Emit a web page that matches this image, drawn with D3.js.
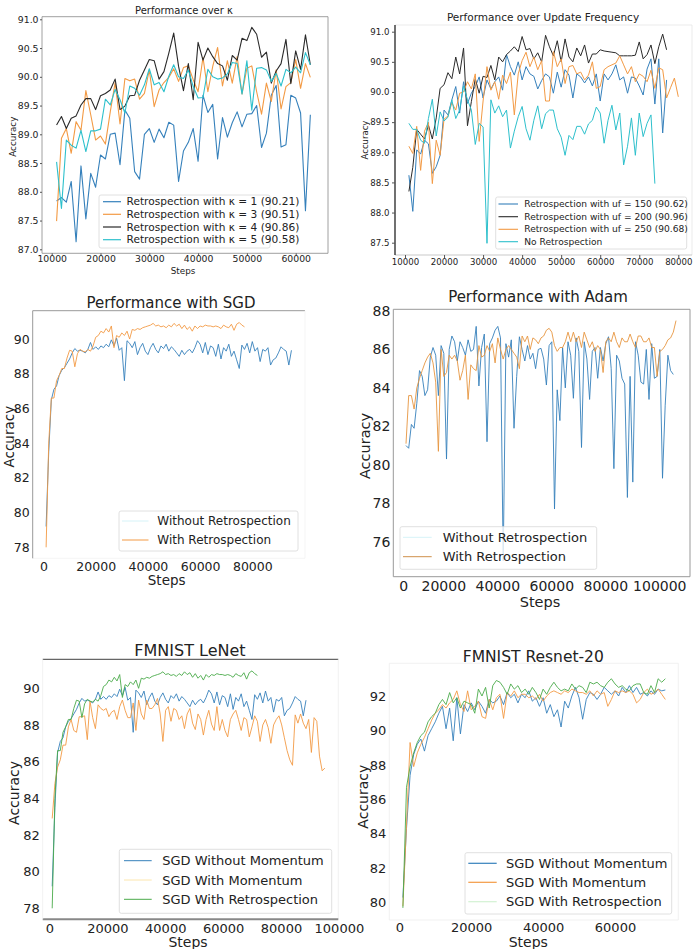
<!DOCTYPE html>
<html lang="en">
<head>
<meta charset="utf-8">
<title>Retrospection results</title>
<script src="https://cdn.jsdelivr.net/npm/d3@7/dist/d3.min.js"></script>
<style>
body { margin: 0; background: #fff; }
svg text { font-family: "DejaVu Sans", sans-serif; fill: #222; }
.axis path { display: none; }
.axis line { stroke: #555; }
</style>
</head>
<body>
<script>
// ---- data (accuracy) ----
var kappaSteps = d3.range(11000, 63001, 1000);
var kappa1 = [87.84, 87.90, 87.82, 88.18, 87.13, 88.45, 87.53, 88.32, 88.08, 88.64,
  88.57, 89.00, 89.02, 88.47, 89.42, 89.28, 88.35, 88.22, 89.00, 89.10,
  88.86, 89.09, 88.94, 89.21, 89.16, 88.18, 88.71, 88.86, 89.10, 88.53,
  89.68, 89.38, 89.52, 88.57, 89.29, 88.95, 89.20, 89.39, 89.13, 89.35,
  89.36, 89.50, 88.77, 89.02, 89.68, 89.85, 88.78, 88.82, 89.68, 89.63,
  89.37, 87.67, 89.34];
var kappa3 = [87.49, 88.93, 89.10, 88.67, 89.22, 89.07, 89.76, 89.34, 88.90, 88.97,
  88.83, 89.39, 89.90, 89.18, 89.97, 89.93, 89.96, 89.61, 89.71, 90.12,
  89.48, 89.77, 89.90, 89.99, 90.14, 89.92, 90.16, 90.19, 89.95, 89.74,
  90.34, 89.74, 90.18, 90.51, 89.84, 90.28, 89.89, 90.35, 89.70, 90.15,
  90.19, 89.74, 89.35, 89.89, 89.57, 90.12, 89.44, 89.83, 89.90, 90.30,
  89.80, 90.23, 89.99];
var kappa4 = [89.16, 89.31, 89.10, 89.28, 89.32, 89.51, 89.62, 89.62, 89.43, 89.67,
  89.71, 89.77, 89.96, 89.43, 89.49, 89.67, 89.68, 89.94, 90.12, 90.30,
  90.28, 89.96, 90.09, 90.41, 90.76, 90.18, 89.76, 90.23, 89.60, 90.60,
  90.29, 90.50, 90.35, 90.23, 90.19, 89.94, 90.37, 90.29, 90.67, 90.63,
  90.86, 90.74, 90.34, 90.43, 89.89, 90.10, 90.23, 90.65, 89.88, 90.45,
  90.13, 90.73, 90.21];
var kappa5 = [88.52, 87.71, 88.90, 88.81, 88.76, 89.07, 88.70, 89.06, 89.06, 89.09,
  89.61, 89.51, 89.78, 89.60, 89.37, 89.84, 89.80, 89.68, 89.86, 90.14,
  89.86, 89.90, 89.74, 90.01, 90.21, 90.00, 89.97, 90.12, 89.83, 89.63,
  89.64, 90.13, 90.00, 89.96, 89.98, 90.05, 90.25, 90.23, 89.70, 90.28,
  89.42, 90.15, 90.16, 90.12, 89.92, 90.06, 89.84, 90.13, 90.07, 90.17,
  90.07, 90.42, 90.21];

var uf150Steps = d3.range(11000, 77001, 1000);
var uf150 = [88.62, 88.02, 89.04, 88.97, 89.20, 89.14, 88.65, 88.76, 88.95, 89.70,
  89.62, 89.87, 90.09, 89.65, 90.17, 89.81, 89.98, 90.09, 90.25, 89.90,
  90.20, 90.05, 90.17, 90.25, 90.03, 90.62, 90.42, 90.28, 90.50, 90.20,
  90.42, 90.30, 90.26, 90.05, 90.19, 90.30, 90.25, 89.98, 90.33, 90.08,
  90.37, 90.28, 89.90, 90.30, 90.25, 90.15, 90.25, 90.10, 90.30, 89.85,
  90.30, 90.20, 90.30, 90.45, 90.20, 90.25, 89.98, 90.25, 90.23, 90.10,
  89.95, 90.38, 90.55, 89.80, 90.55, 89.32, 90.20];
var uf200 = [88.35, 88.75, 89.38, 89.30, 89.22, 89.45, 89.22, 89.57, 90.06, 90.12,
  90.32, 90.22, 90.58, 90.30, 90.73, 89.44, 89.84, 90.22, 89.98, 90.26,
  90.24, 90.44, 90.20, 90.58, 90.50, 90.62, 90.68, 90.75, 90.67, 90.92,
  90.70, 90.72, 90.55, 90.65, 90.50, 90.94, 90.75, 90.60, 90.85, 90.50,
  90.88, 90.58, 90.50, 90.73, 90.60, 90.78, 90.48, 90.63, 90.63, 90.70,
  90.68, 90.67, 90.66, 90.65, 90.60, 90.60, 90.60, 90.60, 90.61, 90.83,
  90.55, 90.62, 90.78, 90.47, 90.75, 90.96, 90.70];
var uf250Steps = d3.range(11000, 80001, 1000);
var uf250 = [89.10, 88.98, 89.43, 88.70, 89.35, 89.50, 88.48, 89.20, 88.95, 89.55,
  89.60, 89.82, 89.70, 89.98, 90.00, 90.17, 90.05, 90.30, 89.18, 89.85,
  90.42, 90.03, 90.17, 89.88, 90.28, 90.14, 90.33, 89.62, 90.30, 90.52,
  90.66, 90.42, 90.58, 90.37, 90.52, 89.85, 89.85, 90.67, 90.42, 90.55,
  90.14, 90.42, 90.44, 90.30, 90.33, 90.20, 90.28, 90.50, 90.06, 90.09,
  90.37, 90.42, 90.45, 90.48, 90.60, 90.45, 90.30, 90.42, 90.17, 90.30,
  90.26, 90.17, 90.36, 90.06, 90.40, 90.37, 89.90, 90.07, 90.23, 89.92];
var ufNoneSteps = d3.range(11000, 74001, 1000);
var ufNone = [89.48, 89.38, 89.38, 89.20, 89.15, 89.56, 89.88, 89.27, 89.67, 89.52,
  89.58, 89.87, 89.56, 89.70, 90.10, 89.87, 89.70, 89.13, 89.48, 89.42,
  87.49, 89.87, 89.65, 89.77, 89.59, 89.70, 89.07, 89.35, 89.59, 89.76,
  89.39, 89.20, 89.53, 89.77, 89.39, 89.64, 89.70, 89.70, 89.39, 89.25,
  88.95, 89.28, 89.21, 89.43, 89.43, 89.30, 89.47, 89.53, 89.75, 89.65,
  89.15, 89.53, 89.78, 89.37, 89.65, 88.79, 89.10, 89.57, 88.95, 89.65,
  89.26, 89.48, 89.62, 88.48];

// SGD runs (same curves reappear in the FMNIST LeNet panel, logged on a tighter step grid)
var sgdPlainSteps = d3.range(1000, 95001, 1000);
var sgdPlain = [79.2, 83.5, 86.5, 87.1, 87.3, 87.9, 88.2, 88.35, 88.6, 88.85,
  89.2, 89.45, 89.3, 89.35, 89.3, 89.2, 89.4, 89.8, 89.4, 89.55,
  89.4, 89.6, 89.5, 89.7, 89.55, 89.95, 89.6, 90.05, 89.35, 89.5,
  87.6, 89.9, 89.75, 89.5, 89.85, 89.1, 89.5, 89.75, 89.3, 89.1,
  89.5, 89.75, 89.4, 89.2, 89.6, 89.45, 89.7, 89.3, 89.55, 89.4,
  89.2, 89.0, 89.35, 89.1, 89.3, 89.4, 89.2, 89.5, 89.9, 89.7,
  89.2, 89.8, 89.1, 89.6, 89.5, 89.0, 89.7, 88.85, 89.5, 89.3,
  89.7, 89.0, 89.3, 88.8, 88.3, 89.65, 89.4, 89.75, 89.2, 89.85,
  89.3, 89.5, 88.7, 89.4, 89.3, 89.5, 88.5, 88.8, 88.9, 89.2,
  89.55, 89.4, 89.3, 88.5, 89.35];
var sgdRetroSteps = d3.range(1000, 77001, 1000);
var sgdRetro = [78.0, 84.0, 86.6, 86.6, 87.6, 87.9, 88.3, 88.3, 88.9, 89.35,
  89.3, 88.4, 89.15, 89.4, 89.3, 89.25, 89.4, 89.3, 89.6, 90.1,
  90.2, 90.45, 90.35, 90.6, 90.4, 90.75, 89.5, 90.2, 90.1, 90.35,
  90.2, 90.45, 90.0, 90.55, 90.5, 90.6, 90.55, 90.65, 90.7, 90.75,
  90.8, 90.9, 90.75, 90.8, 90.7, 90.75, 90.65, 90.8, 90.7, 90.9,
  90.75, 90.85, 90.6, 90.8, 90.55, 90.7, 90.45, 90.75, 90.6, 90.75,
  90.7, 90.8, 90.75, 90.75, 90.7, 90.75, 90.7, 90.6, 90.8, 90.7,
  90.65, 90.85, 90.5, 90.85, 90.95, 90.8, 90.7];

var adamPlainSteps = d3.range(1000, 100001, 1000);
var adamPlain = [81.0, 80.86, 82.1, 81.9, 83.2, 84.9, 84.6, 83.6, 83.9, 85.6,
  86.1, 85.7, 83.6, 86.2, 85.8, 80.3, 86.0, 86.7, 86.4, 85.4,
  86.4, 86.1, 85.7, 86.5, 85.9, 86.0, 87.2, 84.1, 86.1, 86.8,
  81.2, 86.3, 86.6, 87.0, 87.2, 86.6, 75.0, 86.3, 85.6, 86.5,
  81.9, 84.6, 86.66, 86.0, 85.4, 86.2, 85.5, 85.8, 85.0, 86.0,
  86.06, 85.5, 84.15, 86.2, 86.4, 77.7, 83.9, 82.3, 86.1, 84.0,
  86.4, 85.7, 83.46, 86.6, 85.9, 80.9, 86.4, 85.5, 83.4, 85.9,
  86.1, 84.5, 86.1, 85.4, 86.3, 86.66, 85.0, 79.8, 85.7, 85.4,
  84.5, 84.2, 78.3, 84.6, 79.1, 86.4, 85.7, 84.3, 84.2, 86.0,
  83.4, 86.3, 84.5, 84.6, 86.0, 79.3, 83.1, 85.7, 84.9, 84.7];
var adamRetroSteps = d3.range(1000, 101001, 1000);
var adamRetro = [81.1, 83.6, 83.6, 82.9, 84.0, 84.5, 84.9, 85.3, 85.6, 85.8,
  85.3, 84.3, 80.7, 86.0, 84.6, 84.8, 85.7, 85.5, 85.7, 85.4,
  84.4, 84.9, 85.7, 83.4, 85.2, 85.0, 84.9, 86.2, 85.6, 85.7,
  86.2, 85.9, 86.3, 85.3, 86.6, 86.0, 85.5, 86.0, 86.2, 86.0,
  85.8, 85.6, 85.0, 86.7, 86.4, 86.7, 86.0, 86.6, 86.5, 86.3,
  86.6, 86.7, 87.0, 87.1, 86.9, 86.2, 85.9, 86.1, 86.1, 86.4,
  86.9, 86.4, 86.9, 86.4, 86.7, 86.1, 86.9, 86.5, 86.1, 86.4,
  85.9, 86.2, 86.0, 84.8, 86.4, 86.6, 86.4, 86.9, 86.4, 86.1,
  86.6, 86.4, 86.4, 86.8, 86.4, 86.1, 86.7, 86.7, 86.4, 86.4,
  86.6, 86.1, 86.1, 84.6, 85.9, 86.0, 86.2, 86.5, 86.6, 86.9,
  87.5];

var lenetEvery = 933;   // logging interval of the LeNet runs
var lenetMom = [82.9, 84.8, 85.7, 86.1, 86.9, 86.9, 87.9, 88.3, 87.7, 87.6,
  88.45, 88.45, 88.5, 87.2, 89.3, 88.4, 87.8, 89.1, 88.9, 88.8,
  88.9, 88.45, 88.7, 88.8, 88.3, 89.0, 89.36, 88.8, 88.4, 88.4,
  89.2, 87.7, 89.36, 88.6, 88.3, 89.36, 88.9, 88.9, 89.1, 89.45,
  88.6, 87.1, 88.8, 89.0, 88.2, 88.9, 88.8, 88.3, 88.5, 87.8,
  88.6, 88.9, 88.1, 87.75, 88.6, 88.3, 87.45, 88.3, 88.8, 88.05,
  87.7, 89.0, 87.7, 88.3, 87.7, 87.35, 88.3, 88.6, 88.8, 88.3,
  87.7, 88.4, 88.3, 87.35, 87.9, 88.5, 88.2, 87.1, 88.0, 88.3,
  87.85, 87.0, 88.0, 88.3, 88.5, 88.0, 87.3, 86.6, 86.1, 85.8,
  88.55, 88.1, 88.6, 88.1, 87.8, 88.3, 86.5, 88.4, 88.2, 86.3,
  85.5, 85.65];
var lenetPlainSteps = sgdPlain.map(function(v, i) { return (i + 1) * lenetEvery; });
var lenetRetroSteps = sgdRetro.map(function(v, i) { return (i + 1) * lenetEvery; });
var lenetMomSteps = lenetMom.map(function(v, i) { return (i + 1) * lenetEvery; });

var resSteps = d3.range(1000, 74001, 1000);
var resPlain = [80.3, 84.3, 87.4, 88.6, 89.2, 89.5, 88.8, 89.7, 90.1, 90.5,
  91.0, 91.4, 90.1, 91.3, 89.4, 91.9, 89.8, 91.5, 91.1, 91.6,
  91.2, 91.7, 91.4, 91.0, 91.8, 91.6, 91.7, 92.0, 91.5, 92.2,
  91.9, 92.1, 91.6, 92.1, 91.9, 92.3, 91.7, 91.9, 91.4, 91.9,
  91.0, 91.5, 90.8, 91.2, 90.2, 91.7, 91.3, 92.0, 92.5, 91.9,
  90.65, 91.8, 92.2, 92.1, 91.8, 92.1, 92.5, 92.3, 92.1, 92.3,
  92.0, 92.5, 92.2, 92.6, 92.2, 92.5, 92.1, 92.2, 92.0, 92.3,
  92.1, 92.4, 92.3, 92.35];
var resMom = [79.8, 84.5, 89.3, 87.9, 88.7, 89.2, 89.6, 90.1, 90.6, 91.0,
  91.2, 91.5, 91.3, 91.6, 91.8, 92.3, 91.5, 91.1, 92.3, 91.2,
  91.4, 91.7, 90.8, 90.7, 91.8, 91.2, 91.9, 92.1, 90.7, 92.2,
  92.0, 92.3, 91.9, 92.1, 92.1, 91.9, 92.0, 91.8, 92.1, 91.7,
  92.0, 92.2, 92.3, 92.2, 92.1, 92.3, 92.2, 92.4, 92.3, 92.2,
  92.2, 92.1, 92.3, 92.0, 92.3, 92.1, 92.2, 91.4, 91.8, 92.3,
  92.2, 92.3, 92.2, 92.3, 92.1, 91.6, 91.8, 92.2, 92.4, 92.1,
  92.2, 92.4, 92.1, 91.8];
var resRetro = [79.7, 86.7, 87.9, 88.7, 89.3, 89.7, 89.9, 90.5, 90.8, 91.0,
  91.5, 91.8, 91.5, 92.2, 91.6, 91.9, 91.3, 91.7, 91.6, 91.5,
  91.0, 92.4, 92.0, 92.5, 91.3, 92.6, 92.9, 92.8, 92.5, 92.1,
  92.7, 92.4, 92.6, 92.2, 92.4, 92.1, 92.5, 92.2, 91.8, 92.4,
  92.1, 92.5, 92.8, 92.5, 92.3, 92.4, 92.3, 92.7, 92.4, 92.6,
  92.5, 92.2, 92.8, 92.7, 92.8, 92.6, 92.5, 92.8, 93.0, 92.7,
  92.5, 92.6, 92.4, 92.3, 92.6, 92.7, 92.7, 92.2, 92.1, 92.6,
  92.2, 93.0, 92.8, 93.0];

var kappaTicksX = d3.range(10000, 60001, 10000);
var kappaTicksY = d3.range(87, 91.01, 0.5);
var ufTicksX = d3.range(10000, 80001, 10000);
var ufTicksY = d3.range(87.5, 91.01, 0.5);
var sgdTicksX = [0, 20000, 40000, 60000, 80000];
var accTicks78 = [78, 80, 82, 84, 86, 88, 90];
var adamTicksX = [0, 20000, 40000, 60000, 80000, 100000];
var adamTicksY = [76, 78, 80, 82, 84, 86, 88];
var resTicksX = [0, 20000, 40000, 60000];
var resTicksY = [80, 82, 84, 86, 88, 90, 92];

// ---- colours ----
var cBlue = "#3580bb", cOrange = "#f39a44", cBlack = "#2a2a2a", cCyan = "#2dc0cc", cGreen = "#4aaa4a";

var svg = d3.select("body").append("svg").attr("width", 699).attr("height", 949);

function panel(p) {
  var x = d3.scaleLinear().domain([p.xa[0], p.xb[0]]).range([p.xa[1], p.xb[1]]);
  var y = d3.scaleLinear().domain([p.ya[0], p.yb[0]]).range([p.ya[1], p.yb[1]]);
  var b = p.box;
  var g = svg.append("g");

  // spines: top, right, bottom, left
  var sides = [[b[0], b[1], b[2], b[1]], [b[2], b[1], b[2], b[3]], [b[0], b[3], b[2], b[3]], [b[0], b[1], b[0], b[3]]];
  sides.forEach(function(s, i) {
    g.append("line").attr("x1", s[0]).attr("y1", s[1]).attr("x2", s[2]).attr("y2", s[3])
      .attr("stroke", p.spines[i][0]).attr("stroke-width", p.spines[i][1]);
  });

  var xAxis = d3.axisBottom(x).tickValues(p.xticks).tickSize(p.tick).tickPadding(p.xpad)
    .tickFormat(d3.format("d"));
  var yAxis = d3.axisLeft(y).tickValues(p.yticks).tickSize(p.tick).tickPadding(p.ypad)
    .tickFormat(d3.format(p.yfmt));
  var gx = g.append("g").attr("class", "axis").attr("transform", "translate(0," + b[3] + ")").call(xAxis);
  gx.selectAll("text").attr("font-size", p.tickFont).style("fill", "#222");
  if (p.xshift) {
    gx.selectAll("text").attr("dx", function(d) { return d === 0 ? 0 : p.xshift; });
  }
  g.append("g").attr("class", "axis").attr("transform", "translate(" + b[0] + ",0)").call(yAxis)
    .selectAll("text").attr("font-size", p.tickFont).style("fill", "#222");
  g.selectAll(".axis text").attr("font-family", "DejaVu Sans");

  var line = d3.line();
  p.series.forEach(function(s) {
    g.append("path")
      .attr("fill", "none").attr("stroke", s.color).attr("stroke-width", p.lw)
      .attr("stroke-linejoin", "round")
      .attr("d", line(s.values.map(function(v, i) { return [x(s.steps[i]), y(v)]; })));
  });

  g.append("text").attr("x", p.title[1]).attr("y", p.title[2]).attr("text-anchor", "middle")
    .attr("font-size", p.title[3]).text(p.title[0]);
  g.append("text").attr("transform", "translate(" + p.ylab[0] + "," + p.ylab[1] + ") rotate(-90)")
    .attr("text-anchor", "middle").attr("dy", "0.35em").attr("font-size", p.labFont).text("Accuracy");
  if (p.xlab) {
    g.append("text").attr("x", p.xlab[0]).attr("y", p.xlab[1]).attr("text-anchor", "middle")
      .attr("dy", "0.35em").attr("font-size", p.labFont).text("Steps");
  }

  var L = p.legend;
  g.append("rect").attr("x", L.box[0]).attr("y", L.box[1])
    .attr("width", L.box[2] - L.box[0]).attr("height", L.box[3] - L.box[1])
    .attr("rx", 2).attr("fill", "#fff").attr("fill-opacity", 0.8)
    .attr("stroke", "#d8d8d8").attr("stroke-width", 0.8);
  L.items.forEach(function(it, i) {
    var yy = L.rows[i];
    g.append("line").attr("x1", L.handle[0]).attr("x2", L.handle[1]).attr("y1", yy).attr("y2", yy)
      .attr("stroke", it[1]).attr("stroke-width", L.hw);
    g.append("text").attr("x", L.tx).attr("y", yy).attr("dy", "0.35em")
      .attr("font-size", L.font).text(it[0]);
  });
}

// top-left: performance over kappa
panel({
  box: [42, 16.7, 328, 253.3],
  xa: [10000, 51.7], xb: [60000, 295.7],
  ya: [87, 249.3], yb: [91, 19.3],
  xticks: kappaTicksX, yticks: kappaTicksY, yfmt: ".1f",
  tick: 2, xpad: 0.5, ypad: 1.5, tickFont: "9.3px", labFont: "8.8px", lw: 1.1,
  spines: [["#888", 0.8], ["#888", 0.8], ["#888", 0.8], ["#888", 0.8]],
  title: ["Performance over \u03ba", 184, 13.5, "10px"],
  ylab: [12.5, 136.7], xlab: [183, 270.5],
  series: [
    { steps: kappaSteps, values: kappa1, color: cBlue },
    { steps: kappaSteps, values: kappa3, color: cOrange },
    { steps: kappaSteps, values: kappa4, color: cBlack },
    { steps: kappaSteps, values: kappa5, color: cCyan }
  ],
  legend: {
    box: [99, 195, 270, 248], rows: [201.7, 214.3, 227, 239.7], handle: [103, 121], tx: 126.5,
    font: "10.6px", hw: 1.2,
    items: [["Retrospection with \u03ba = 1 (90.21)", cBlue], ["Retrospection with \u03ba = 3 (90.51)", cOrange],
            ["Retrospection with \u03ba = 4 (90.86)", cBlack], ["Retrospection with \u03ba = 5 (90.58)", cCyan]]
  }
});

// top-right: update frequency
panel({
  box: [395, 25, 692, 255],
  xa: [10000, 405], xb: [80000, 678.3],
  ya: [87.5, 242.7], yb: [91, 31.7],
  xticks: ufTicksX, yticks: ufTicksY, yfmt: ".1f",
  tick: 3, xpad: 1, ypad: 2.5, tickFont: "8.6px", labFont: "8.5px", lw: 1.0,
  spines: [["#e6e6e6", 0.8], ["#e6e6e6", 0.8], ["#bbb", 0.8], ["#111", 1.2]],
  title: ["Performance over Update Frequency", 543, 21, "10.5px"],
  ylab: [365, 140], xlab: null,
  series: [
    { steps: uf150Steps, values: uf150, color: cBlue },
    { steps: uf150Steps, values: uf200, color: cBlack },
    { steps: uf250Steps, values: uf250, color: cOrange },
    { steps: ufNoneSteps, values: ufNone, color: cCyan }
  ],
  legend: {
    box: [495.7, 197, 686.7, 249], rows: [204, 216.7, 229.3, 241.7], handle: [498.5, 518], tx: 524.3,
    font: "9.1px", hw: 1.1,
    items: [["Retrospection with uf = 150 (90.62)", cBlue], ["Retrospection with uf = 200 (90.96)", cBlack],
            ["Retrospection with uf = 250 (90.68)", cOrange], ["No Retrospection", cCyan]]
  }
});

// middle-left: SGD
panel({
  box: [32.7, 310.7, 305, 558.3],
  xa: [0, 43.5], xb: [80000, 252.3],
  ya: [78, 547.3], yb: [90, 339],
  xticks: sgdTicksX, yticks: accTicks78, yfmt: "d",
  tick: 0, xpad: 4, ypad: 3, tickFont: "12.5px", labFont: "13.5px", lw: 0.9,
  spines: [["#999", 1], ["#f2f2f2", 0.8], ["#f2f2f2", 0.8], ["#999", 1]],
  title: ["Performance with SGD", 171, 308, "15px"],
  ylab: [9, 436.7], xlab: [166.7, 580],
  series: [
    { steps: sgdPlainSteps, values: sgdPlain, color: cBlue },
    { steps: sgdRetroSteps, values: sgdRetro, color: cOrange }
  ],
  legend: {
    box: [119, 511, 298, 551], rows: [521, 540], handle: [122, 148.5], tx: 157.3,
    font: "12px", hw: 1,
    items: [["Without Retrospection", "#d6f3f8"], ["With Retrospection", cOrange]]
  }
});

// middle-right: Adam
panel({
  box: [393.3, 309.3, 690, 576.7],
  xa: [0, 403.3], xb: [100000, 673.3],
  ya: [76, 541.7], yb: [88, 311],
  xticks: adamTicksX, yticks: adamTicksY, yfmt: "d", xshift: -14,
  tick: 0, xpad: 4, ypad: 3, tickFont: "14px", labFont: "14.5px", lw: 0.9,
  spines: [["#999", 1], ["#999", 1], ["#999", 1], ["#999", 1]],
  title: ["Performance with Adam", 538, 302, "15px"],
  ylab: [365, 446], xlab: [540, 601.7],
  series: [
    { steps: adamPlainSteps, values: adamPlain, color: cBlue },
    { steps: adamRetroSteps, values: adamRetro, color: "#e6953f" }
  ],
  legend: {
    box: [400, 526.7, 596.7, 569.3], rows: [537.3, 556.7], handle: [403, 431.7], tx: 442.7,
    font: "13px", hw: 1,
    items: [["Without Retrospection", "#d6f3f8"], ["With Retrospection", "#cf914c"]]
  }
});

// bottom-left: FMNIST LeNet
panel({
  box: [42.7, 659.3, 338.3, 919.3],
  xa: [0, 49.5], xb: [80000, 281],
  ya: [78, 908.3], yb: [90, 688.3],
  xticks: adamTicksX, yticks: accTicks78, yfmt: "d",
  tick: 0, xpad: 4, ypad: 3, tickFont: "13px", labFont: "14px", lw: 0.9,
  spines: [["#666", 1.2], ["#eee", 0.8], ["#888", 2], ["#eee", 0.8]],
  title: ["FMNIST LeNet", 190, 656, "16px"],
  ylab: [14, 793], xlab: [188, 942.5],
  series: [
    { steps: lenetPlainSteps, values: sgdPlain, color: cBlue },
    { steps: lenetMomSteps, values: lenetMom, color: cOrange },
    { steps: lenetRetroSteps, values: sgdRetro, color: cGreen }
  ],
  legend: {
    box: [119.3, 849.3, 331.7, 913.3], rows: [860.7, 880, 899.3], handle: [124, 151.7], tx: 162.3,
    font: "13px", hw: 1,
    items: [["SGD Without Momentum", cBlue], ["SGD With Momentum", "#fce6ae"], ["SGD With Retrospection", cGreen]]
  }
});

// bottom-right: FMNIST Resnet-20
panel({
  box: [389.3, 663.3, 678.3, 920],
  xa: [0, 399.3], xb: [60000, 615],
  ya: [80, 902.7], yb: [92, 696],
  xticks: resTicksX, yticks: resTicksY, yfmt: "d",
  tick: 0, xpad: 3, ypad: 3, tickFont: "13px", labFont: "14px", lw: 0.9,
  spines: [["#eee", 0.8], ["#eee", 0.8], ["#eee", 0.8], ["#eee", 0.8]],
  title: ["FMNIST Resnet-20", 533.3, 662, "15.5px"],
  ylab: [363, 796.7], xlab: [528.3, 942.5],
  series: [
    { steps: resSteps, values: resPlain, color: cBlue },
    { steps: resSteps, values: resMom, color: cOrange },
    { steps: resSteps, values: resRetro, color: cGreen }
  ],
  legend: {
    box: [465, 852.7, 671.7, 914], rows: [863.3, 882.3, 901.7], handle: [468.3, 496.7], tx: 506,
    font: "13px", hw: 1.2,
    items: [["SGD Without Momentum", cBlue], ["SGD With Momentum", cOrange], ["SGD With Retrospection", "#d3f2d3"]]
  }
});
</script>
</body>
</html>
